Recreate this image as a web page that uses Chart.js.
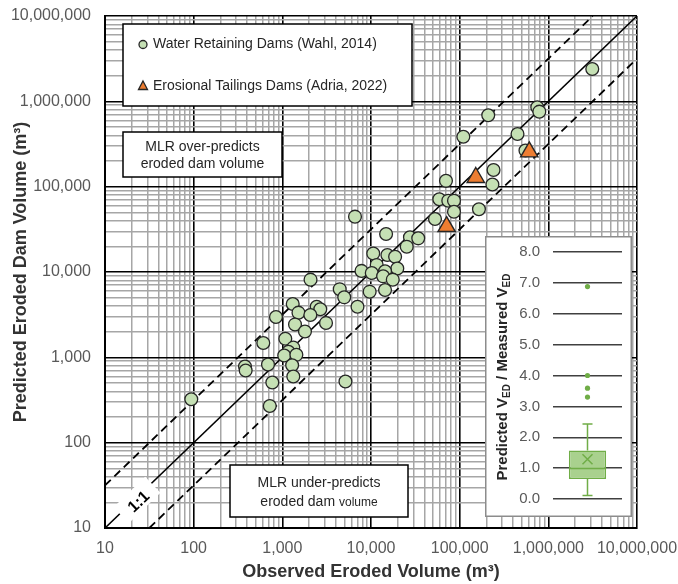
<!DOCTYPE html>
<html>
<head>
<meta charset="utf-8">
<script src="https://cdn.jsdelivr.net/npm/chart.js@4.4.1/dist/chart.umd.min.js"></script>
<style>
  html, body { margin: 0; padding: 0; background: #fff; }
  #wrap { position: relative; width: 678px; height: 584px; }
  #main { position: absolute; left: 0; top: 0; }
  #inset { position: absolute; left: 485px; top: 236px; }
</style>
</head>
<body>
<div id="wrap">
  <canvas id="main" width="678" height="584"></canvas>
  <canvas id="inset" width="147" height="281"></canvas>
</div>
<script>
// observed vs predicted eroded volume (m3)
const wahlObserved = [
  3130000, 750000, 791000, 210000, 110000, 449000, 552000, 70100, 241000, 234000,
  58900, 74400, 86300, 86300, 165000, 52700, 27500, 34100, 25300, 6600,
  14800, 10600, 15300, 18700, 11600, 19800, 7810, 10200, 14400, 13700,
  17600, 2080, 9660, 14400, 4440, 4990, 7040, 1310, 1520, 2440,
  2680, 2070, 848, 1390, 3110, 1800, 610, 1080, 1330, 1170,
  1050, 1440, 379, 386, 689, 1290, 771, 1330, 5150, 722, 94
];
const wahlPredicted = [
  2390000, 851000, 757000, 687000, 385000, 414000, 265000, 117000, 157000, 106000,
  71100, 68500, 68500, 50900, 54300, 41800, 25500, 24800, 19800, 44500,
  27900, 16500, 15800, 15100, 12100, 11000, 10300, 9730, 10200, 8900,
  8130, 8130, 5880, 6150, 6290, 5050, 3920, 4220, 3340, 3920,
  3660, 3130, 2970, 2430, 2530, 2010, 1470, 1650, 1300, 1160,
  1050, 1070, 781, 701, 824, 807, 507, 596, 521, 269, 323
];
const adriaObserved = [71300, 152000, 610000];
const adriaPredicted = [34100, 128000, 256000];

const axisDecades = [10, 100, 1000, 10000, 100000, 1000000, 10000000];
const axisTickLabels = ['10', '100', '1,000', '10,000', '100,000', '1,000,000', '10,000,000'];
const bandFactor = Math.sqrt(10);

const legendLabels = ['Water Retaining Dams (Wahl, 2014)', 'Erosional Tailings Dams (Adria, 2022)'];

// inset: predicted / measured ratio
const ratioTicks = [0, 1, 2, 3, 4, 5, 6, 7, 8];
const ratioWhiskers = [0.11, 2.43];
const ratioQuartiles = [0.65, 0.99, 1.57];
const ratioMean = [1.29];
const ratioOutliers = [6.88, 4.0, 3.59, 3.30];

Chart.defaults.font.family = '"Liberation Sans", Arial, sans-serif';

const tickValues = [];
axisDecades.forEach((d, i) => {
  if (i === axisDecades.length - 1) { tickValues.push(d); return; }
  for (let k = 1; k <= 9; k++) tickValues.push(k * d);
});
const isDecade = v => axisDecades.indexOf(v) >= 0;

const logAxis = (pad, extra) => Object.assign({
  type: 'logarithmic',
  min: axisDecades[0],
  max: axisDecades[axisDecades.length - 1],
  afterBuildTicks: s => { s.ticks = tickValues.map(v => ({ value: v })); },
  ticks: {
    autoSkip: false, maxRotation: 0, minRotation: 0, padding: pad,
    color: '#595959', font: { size: 16 },
    callback: v => { const i = axisDecades.indexOf(v); return i >= 0 ? axisTickLabels[i] : ''; }
  },
  grid: {
    drawTicks: false,
    color: c => (c.tick && isDecade(c.tick.value)) ? '#000' : '#a6a6a6',
    lineWidth: c => (c.tick && isDecade(c.tick.value)) ? 1.6 : 1.5
  },
  border: { display: true, color: '#000', width: 2 }
}, extra);

function boxText(ctx, x, y, w, h) {
  ctx.fillStyle = '#fff';
  ctx.fillRect(x, y, w, h);
  ctx.strokeStyle = '#000';
  ctx.lineWidth = 1.5;
  ctx.strokeRect(x, y, w, h);
}

const overlays = {
  id: 'overlays',
  afterDatasetsDraw(chart) {
    const ctx = chart.ctx;
    const xs = chart.scales.x, ys = chart.scales.y;
    ctx.save();

    // legend
    boxText(ctx, 123, 24, 289, 82);
    ctx.font = '14px "Liberation Sans", Arial, sans-serif';
    ctx.fillStyle = '#262626';
    ctx.textBaseline = 'middle';
    ctx.textAlign = 'left';
    ctx.fillText(legendLabels[0], 153, 44.5);
    ctx.fillText(legendLabels[1], 153, 86);
    ctx.beginPath();
    ctx.arc(143, 44.5, 4, 0, Math.PI * 2);
    ctx.fillStyle = '#c5e0b4'; ctx.fill();
    ctx.strokeStyle = '#262626'; ctx.lineWidth = 1.3; ctx.stroke();
    ctx.beginPath();
    ctx.moveTo(143, 81); ctx.lineTo(147.5, 89.5); ctx.lineTo(138.5, 89.5); ctx.closePath();
    ctx.fillStyle = '#ed7d31'; ctx.fill();
    ctx.strokeStyle = '#262626'; ctx.stroke();

    // over-predicts note
    boxText(ctx, 123, 132, 159, 45);
    ctx.fillStyle = '#262626';
    ctx.textAlign = 'center';
    ctx.font = '14px "Liberation Sans", Arial, sans-serif';
    ctx.fillText('MLR over-predicts', 202.5, 147.5);
    ctx.fillText('eroded dam volume', 202.5, 164.5);

    // under-predicts note
    boxText(ctx, 230, 465, 178, 52);
    ctx.fillStyle = '#262626';
    ctx.fillText('MLR under-predicts', 319, 483);
    const f1 = '14px "Liberation Sans", Arial, sans-serif';
    const f2 = '12px "Liberation Sans", Arial, sans-serif';
    ctx.font = f1; const w1 = ctx.measureText('eroded dam ').width;
    ctx.font = f2; const w2 = ctx.measureText('volume').width;
    let sx = 319 - (w1 + w2) / 2;
    ctx.textAlign = 'left';
    ctx.textBaseline = 'alphabetic';
    ctx.font = f1; ctx.fillText('eroded dam ', sx, 506);
    ctx.font = f2; ctx.fillText('volume', sx + w1, 506);

    // 1:1 label on the diagonal
    const p0x = xs.getPixelForValue(axisDecades[0]), p0y = ys.getPixelForValue(axisDecades[0]);
    const p1x = xs.getPixelForValue(axisDecades[6]), p1y = ys.getPixelForValue(axisDecades[6]);
    const ang = Math.atan2(p1y - p0y, p1x - p0x);
    ctx.save();
    ctx.translate(137, 500);
    ctx.rotate(ang);
    ctx.fillStyle = '#fff';
    ctx.fillRect(-22, -11, 44, 22);
    ctx.fillStyle = '#000';
    ctx.font = 'bold 16px "Liberation Sans", Arial, sans-serif';
    ctx.textAlign = 'center';
    ctx.textBaseline = 'middle';
    ctx.fillText('1:1', 0, 3);
    ctx.restore();

    ctx.restore();
  }
};

const lineStyle = { showLine: true, pointRadius: 0, borderColor: '#000', fill: false, order: 2 };

new Chart(document.getElementById('main'), {
  type: 'scatter',
  data: {
    datasets: [
      {
        label: legendLabels[1],
        data: adriaObserved.map((v, i) => ({ x: v, y: adriaPredicted[i] })),
        pointStyle: 'triangle', pointRadius: 10,
        backgroundColor: '#ed7d31', borderColor: '#262626', borderWidth: 1.4,
        order: 0
      },
      {
        label: legendLabels[0],
        data: wahlObserved.map((v, i) => ({ x: v, y: wahlPredicted[i] })),
        pointStyle: 'circle', pointRadius: 6.4,
        backgroundColor: '#c5e0b4', borderColor: '#262626', borderWidth: 1.3,
        order: 1
      },
      Object.assign({
        label: '1:1',
        data: [{ x: axisDecades[0], y: axisDecades[0] }, { x: axisDecades[6], y: axisDecades[6] }],
        borderWidth: 1.6
      }, lineStyle),
      Object.assign({
        label: 'upper',
        data: [{ x: axisDecades[0], y: axisDecades[0] * bandFactor }, { x: axisDecades[6] / bandFactor, y: axisDecades[6] }],
        borderWidth: 1.8, borderDash: [8, 5]
      }, lineStyle),
      Object.assign({
        label: 'lower',
        data: [{ x: axisDecades[0] * bandFactor, y: axisDecades[0] }, { x: axisDecades[6], y: axisDecades[6] / bandFactor }],
        borderWidth: 1.8, borderDash: [8, 5]
      }, lineStyle)
    ]
  },
  options: {
    responsive: false,
    animation: false,
    events: [],
    layout: { padding: { top: 16, right: 41, left: 0, bottom: 0 } },
    plugins: { legend: { display: false }, tooltip: { enabled: false } },
    scales: {
      x: logAxis(11, {
        position: 'bottom',
        afterFit: s => { s.height = 56; s.paddingLeft = 0; s.paddingRight = 0; },
        title: { display: true, text: 'Observed Eroded Volume (m³)', color: '#333',
          font: { size: 18, weight: 'bold' }, padding: { top: 0, bottom: 1 } }
      }),
      y: logAxis(14, {
        position: 'left',
        afterFit: s => { s.width = 105; s.paddingTop = 0; s.paddingBottom = 0; },
        title: { display: true, text: 'Predicted Eroded Dam Volume (m³)', color: '#333',
          font: { size: 18, weight: 'bold' }, padding: { top: 10, bottom: 0 } }
      })
    }
  },
  plugins: [overlays]
});
</script>
<script>
// inset box plot
const green = '#70ad47';
const boxPlot = {
  id: 'boxPlot',
  beforeDraw(chart) {
    const ctx = chart.ctx;
    ctx.save();
    ctx.fillStyle = '#fff';
    ctx.fillRect(0, 0, chart.width, chart.height);
    ctx.restore();
  },
  afterDatasetsDraw(chart) {
    const ctx = chart.ctx;
    const y = chart.scales.y;
    const bar = chart.getDatasetMeta(1).data[0];
    const cx = bar.x, half = bar.width / 2;
    ctx.save();
    ctx.strokeStyle = green;
    ctx.lineWidth = 1.5;
    // median
    const ym = y.getPixelForValue(ratioQuartiles[1]);
    ctx.beginPath(); ctx.moveTo(cx - half, ym); ctx.lineTo(cx + half, ym); ctx.stroke();
    // whiskers
    const yq1 = y.getPixelForValue(ratioQuartiles[0]), yq3 = y.getPixelForValue(ratioQuartiles[2]);
    const ylo = y.getPixelForValue(ratioWhiskers[0]), yhi = y.getPixelForValue(ratioWhiskers[1]);
    ctx.beginPath();
    ctx.moveTo(cx, yq3); ctx.lineTo(cx, yhi);
    ctx.moveTo(cx - 5, yhi); ctx.lineTo(cx + 5, yhi);
    ctx.moveTo(cx, yq1); ctx.lineTo(cx, ylo);
    ctx.moveTo(cx - 5, ylo); ctx.lineTo(cx + 5, ylo);
    ctx.stroke();
    // mean
    const yx = y.getPixelForValue(ratioMean[0]);
    ctx.beginPath();
    ctx.moveTo(cx - 5, yx - 5); ctx.lineTo(cx + 5, yx + 5);
    ctx.moveTo(cx + 5, yx - 5); ctx.lineTo(cx - 5, yx + 5);
    ctx.stroke();
    ctx.restore();
  },
  afterDraw(chart) {
    const ctx = chart.ctx;
    ctx.save();
    ctx.strokeStyle = '#8c8c8c';
    ctx.lineWidth = 1.5;
    ctx.strokeRect(0.75, 0.75, chart.width - 1.5, chart.height - 1.5);
    // rotated axis title with subscripts
    const big = 'bold 15px "Liberation Sans", Arial, sans-serif';
    const small = 'bold 10px "Liberation Sans", Arial, sans-serif';
    const parts = [[ 'Predicted V', big, 0 ], [ 'ED', small, 3 ], [ ' / Measured V', big, 0 ], [ 'ED', small, 3 ]];
    let total = 0;
    parts.forEach(p => { ctx.font = p[1]; p.push(ctx.measureText(p[0]).width); total += p[3]; });
    ctx.translate(22, 141);
    ctx.rotate(-Math.PI / 2);
    ctx.fillStyle = '#262626';
    ctx.textBaseline = 'alphabetic';
    ctx.textAlign = 'left';
    let x = -total / 2;
    parts.forEach(p => { ctx.font = p[1]; ctx.fillText(p[0], x, p[2]); x += p[3]; });
    ctx.restore();
  }
};

new Chart(document.getElementById('inset'), {
  type: 'bar',
  data: {
    labels: ['ratio'],
    datasets: [
      {
        type: 'line',
        data: ratioOutliers.map(v => ({ x: 'ratio', y: v })),
        showLine: false, pointRadius: 2.6, pointBorderWidth: 0,
        backgroundColor: green, borderColor: green, order: 0
      },
      {
        type: 'bar',
        data: [[ratioQuartiles[0], ratioQuartiles[2]]],
        backgroundColor: '#a9d18e', borderColor: green, borderWidth: 1.5,
        borderSkipped: false, categoryPercentage: 1, barPercentage: 0.54, order: 1
      }
    ]
  },
  options: {
    responsive: false,
    animation: false,
    events: [],
    layout: { padding: { top: 16, right: 10, left: 0, bottom: 18 } },
    plugins: { legend: { display: false }, tooltip: { enabled: false } },
    scales: {
      x: { type: 'category', display: false },
      y: {
        min: ratioTicks[0], max: ratioTicks[ratioTicks.length - 1],
        afterFit: s => { s.width = 68; s.paddingTop = 0; s.paddingBottom = 0; },
        afterBuildTicks: s => { s.ticks = ratioTicks.map(v => ({ value: v })); },
        ticks: { padding: 13, color: '#595959', font: { size: 15 }, callback: v => v.toFixed(1) },
        grid: { drawTicks: false, color: '#404040', lineWidth: 1.5 },
        border: { display: false }
      }
    }
  },
  plugins: [boxPlot]
});
</script>
</body>
</html>
